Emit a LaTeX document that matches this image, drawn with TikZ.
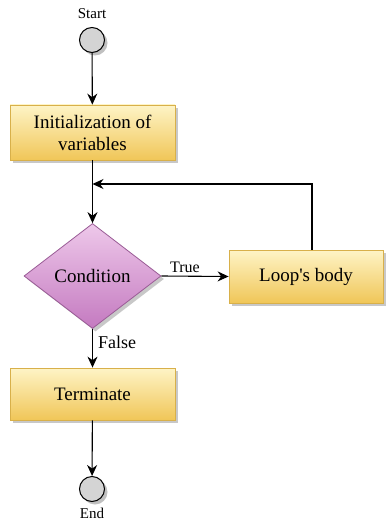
\documentclass[tikz,border=0pt]{standalone}
\usepackage{fontspec}
\setmainfont{Liberation Serif}
\usetikzlibrary{shapes.geometric,arrows.meta,shadows}
\definecolor{boxtop}{HTML}{FEF4C6}
\definecolor{boxbot}{HTML}{F0C658}
\definecolor{boxline}{HTML}{D8B04A}
\definecolor{diatop}{HTML}{EEC8EA}
\definecolor{diabot}{HTML}{C47AC0}
\definecolor{dialine}{HTML}{9A5C96}
\definecolor{circfill}{HTML}{D4D4D4}
\tikzset{
  procbox/.style={rectangle, draw=boxline, line width=0.8pt, top color=boxtop, bottom color=boxbot,
    inner sep=0pt, align=center, font=\fontsize{19}{22}\selectfont,
    drop shadow={shadow xshift=3pt, shadow yshift=-3pt, fill=black!30, opacity=0.7}},
  decision/.style={diamond, draw=dialine, line width=0.8pt, top color=diatop, bottom color=diabot,
    inner sep=0pt, minimum width=137pt, minimum height=105pt, font=\fontsize{19}{22}\selectfont,
    drop shadow={shadow xshift=3pt, shadow yshift=-3pt, fill=black!30, opacity=0.7}},
  terminal/.style={circle, draw=black, line width=1pt, fill=circfill, minimum size=25pt, inner sep=0pt,
    drop shadow={shadow xshift=3pt, shadow yshift=-3pt, fill=black!35, opacity=0.7}},
  lbl/.style={inner sep=0pt, font=\fontsize{15}{17}\selectfont},
  arr/.style={-{Stealth[length=11pt,width=10pt]}, line width=1.1pt, black}
}
\begin{document}
\begin{tikzpicture}[x=1pt,y=-1pt]
\useasboundingbox (0,0) rectangle (386,521);
\fill[white] (0,0) rectangle (386,521);
% nodes
\node[terminal] (start) at (92,40) {};
\node[lbl] (startlbl) at (92,14) {Start};
\node[procbox, minimum width=165pt, minimum height=55pt] (init) at (92.5,132.5) {Initialization of\\variables};
\node[decision] (cond) at (92.5,276) {Condition};
\node[procbox, minimum width=154pt, minimum height=53pt] (loop) at (306,276.5) {Loop\textquotesingle s body};
\node[procbox, minimum width=165pt, minimum height=52pt] (term) at (92.5,394) {Terminate};
\node[terminal] (end) at (92,489) {};
\node[lbl] (endlbl) at (92,513) {End};
\coordinate (fb) at (92.5,184);
% connectors
\draw[arr] (start) -- (init);
\draw[arr] (init) -- (cond);
\draw[arr] ([xshift=6pt]loop.north) |- (fb);
\draw[arr] (cond.east) -- node[lbl, font=\fontsize{16}{18}\selectfont, above=3pt, pos=0.35] (truelbl) {True} (loop.west);
\draw[arr] (cond.south) -- node[lbl, font=\fontsize{18}{20}\selectfont, right=5pt, pos=0.35] (falselbl) {False} (term.north);
\draw[arr] (term) -- (end);
\end{tikzpicture}
\end{document}
